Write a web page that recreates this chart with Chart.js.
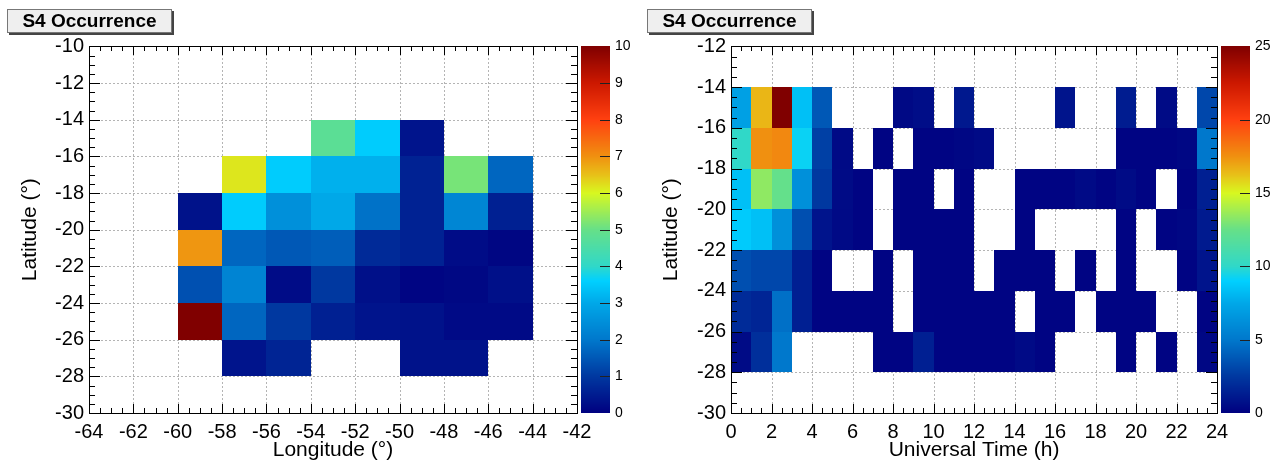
<!DOCTYPE html>
<html><head><meta charset="utf-8">
<script src="https://cdn.jsdelivr.net/npm/chart.js@4.4.1/dist/chart.umd.min.js"></script>
<style>
html,body{margin:0;padding:0;background:#fff;}
body{width:1271px;height:463px;position:relative;overflow:hidden;}
canvas{position:absolute;top:0;}
.tbox{position:absolute;top:9px;width:163px;height:22px;background:#efefef;border:1px solid #777;box-shadow:2px 2px 0 #444;font:bold 19px 'Liberation Sans',Arial,sans-serif;line-height:22px;text-align:center;color:#000;}
</style></head><body>
<canvas id="geo" width="640" height="463" style="left:0"></canvas>
<canvas id="ut" width="631" height="463" style="left:640px"></canvas>
<div class="tbox" style="left:7px">S4 Occurrence</div>
<div class="tbox" style="left:647px">S4 Occurrence</div>
<script>
// ---------- Left panel: longitude x latitude ----------
const lonBinLow = [-60, -58, -56, -54, -52, -50, -48, -46];   // bin width 2
const geoLatBinLow = [-16, -18, -20, -22, -24, -26, -28];     // bin height 2
const geoLat14to16 = [null, null, null, 4.8, 3.54, 0.36, null, null];
const geoLat16to18 = [null, 6.16, 3.54, 3.12, 3.12, 0.6, 5.15, 1.72];
const geoLat18to20 = [0.32, 3.54, 2.5, 3.0, 1.9, 0.6, 2.3, 0.57];
const geoLat20to22 = [6.94, 1.72, 1.5, 1.6, 0.75, 0.6, 0.21, 0.1];
const geoLat22to24 = [1.38, 2.25, 0.21, 1.0, 0.29, 0.09, 0.14, 0.29];
const geoLat24to26 = [10, 1.72, 1.0, 0.57, 0.36, 0.32, 0.18, 0.18];
const geoLat26to28 = [null, 0.36, 0.64, null, null, 0.32, 0.32, null];
const lonTicks = [-64, -62, -60, -58, -56, -54, -52, -50, -48, -46, -44, -42];
const geoLatTicks = [-30, -28, -26, -24, -22, -20, -18, -16, -14, -12, -10];
const geoZTicks = [0, 1, 2, 3, 4, 5, 6, 7, 8, 9, 10];

// ---------- Right panel: universal time x latitude ----------
const hourBinLow = [0,1,2,3,4,5,6,7,8,9,10,11,12,13,14,15,16,17,18,19,20,21,22,23]; // bin width 1
const utLatBinLow = [-16, -18, -20, -22, -24, -26, -28];
const utLat14to16 = [7.1, 16.5, 25, 8.4, 3.75, null, null, null, 0.4, 0.6, null, 1.07, null, null, null, null, 0.9, null, null, 1.25, null, 0.5, null, 3.1];
const utLat16to18 = [10, 17.5, 17.75, 9.2, 2.8, 0.45, null, 0.2, null, 0.2, 0.2, 0.3, 0.45, null, null, null, null, null, null, 0.2, 0.2, 0.2, 0.3, 5];
const utLat18to20 = [8.4, 13.4, 12.4, 6.25, 2.5, 0.5, 0.2, null, 0.2, 0.2, null, 0.2, null, null, 0.2, 0.2, 0.2, 0.45, 0.2, 0.5, 0.2, null, 0.2, 1.4];
const utLat20to22 = [8.8, 8.4, 6.25, 3.4, 0.9, 0.45, 0.2, null, 0.2, 0.2, 0.2, 0.2, null, null, 0.2, null, null, null, null, 0.2, null, 0.2, 0.3, 1.15];
const utLat22to24 = [3.4, 3.1, 3.1, 1.4, 0.2, null, null, 0.2, null, 0.2, 0.2, 0.2, null, 0.2, 0.2, 0.2, null, 0.2, null, 0.2, null, null, 0.2, 0.9];
const utLat24to26 = [1.9, 1.65, 4.7, 1.4, 0.2, 0.2, 0.2, 0.2, null, 0.2, 0.2, 0.2, 0.2, 0.2, null, 0.2, 0.2, null, 0.2, 0.2, 0.2, null, null, 0.2];
const utLat26to28 = [0.5, 2.1, 5, null, null, null, null, 0.2, 0.2, 1.4, 0.2, 0.2, 0.2, 0.2, 0.45, 0.2, null, null, null, 0.2, null, 0.2, null, 0.3];
const hourTicks = [0, 2, 4, 6, 8, 10, 12, 14, 16, 18, 20, 22, 24];
const utLatTicks = [-30, -28, -26, -24, -22, -20, -18, -16, -14, -12];
const utZTicks = [0, 5, 10, 15, 20, 25];

// ---------- palette (ROOT-like rainbow) ----------
const palStops = [[0,0,0,128],[0.1,0,56,160],[0.2,0,120,204],[0.3,0,168,232],[0.36,0,208,255],[0.4,48,216,200],[0.5,102,224,136],[0.6,216,248,32],[0.65,232,192,24],[0.7,240,144,16],[0.8,255,64,16],[0.9,204,24,0],[1,128,0,0]];
function palette(f) {
  f = Math.max(0, Math.min(1, f));
  for (let i = 1; i < palStops.length; i++) {
    const a = palStops[i-1], b = palStops[i];
    if (f <= b[0]) {
      const t = (f - a[0]) / (b[0] - a[0]);
      return 'rgb(' + [1,2,3].map(k => Math.round(a[k] + (b[k]-a[k])*t)).join(',') + ')';
    }
  }
  return 'rgb(128,0,0)';
}

Chart.defaults.font.family = "'Liberation Sans', Arial, Helvetica, sans-serif";
Chart.defaults.color = '#000';

function minorsOf(ticks, n) {
  const out = [];
  for (let i = 1; i < ticks.length; i++) {
    const a = ticks[i-1], b = ticks[i];
    for (let k = 1; k < n; k++) out.push(a + (b - a) * k / n);
  }
  return out;
}

function makeHeat(cfg) {
  return {
    id: 'heat_' + cfg.id,
    beforeDatasetsDraw(chart) {
      const {ctx, chartArea: a} = chart;
      const xs = chart.scales.x, ys = chart.scales.y, zs = chart.scales.z;
      const L = Math.round(a.left), R = Math.round(a.right), T = Math.round(a.top), B = Math.round(a.bottom);
      ctx.save();
      // dotted grid
      ctx.strokeStyle = '#b4b4b4'; ctx.lineWidth = 1; ctx.setLineDash([2, 2]);
      ctx.beginPath();
      cfg.xTicks.forEach(v => { const p = Math.round(xs.getPixelForValue(v)) + 0.5; ctx.moveTo(p, T); ctx.lineTo(p, B); });
      cfg.yTicks.forEach(v => { const p = Math.round(ys.getPixelForValue(v)) + 0.5; ctx.moveTo(L, p); ctx.lineTo(R, p); });
      ctx.stroke(); ctx.setLineDash([]);
      // cells
      cfg.rows.forEach((row, r) => row.forEach((v, c) => {
        if (v === null) return;
        const x0 = Math.round(xs.getPixelForValue(cfg.colLow[c]));
        const x1 = Math.round(xs.getPixelForValue(cfg.colLow[c] + cfg.colW));
        const y0 = Math.round(ys.getPixelForValue(cfg.rowLow[r] + cfg.rowH));
        const y1 = Math.round(ys.getPixelForValue(cfg.rowLow[r]));
        ctx.fillStyle = palette(v / cfg.zMax);
        ctx.fillRect(x0, y0, x1 - x0, y1 - y0);
      }));
      // frame ticks (inward, all four sides)
      ctx.strokeStyle = '#000'; ctx.lineWidth = 1;
      ctx.beginPath();
      const xt = (list, len) => list.forEach(v => { const p = Math.round(xs.getPixelForValue(v)) + 0.5; ctx.moveTo(p, B); ctx.lineTo(p, B - len); ctx.moveTo(p, T); ctx.lineTo(p, T + len); });
      const yt = (list, len) => list.forEach(v => { const p = Math.round(ys.getPixelForValue(v)) + 0.5; ctx.moveTo(L, p); ctx.lineTo(L + len, p); ctx.moveTo(R, p); ctx.lineTo(R - len, p); });
      xt(cfg.xTicks, 9); xt(minorsOf(cfg.xTicks, 4), 5);
      yt(cfg.yTicks, 11); yt(minorsOf(cfg.yTicks, 4), 6);
      ctx.stroke();
      ctx.strokeRect(L + 0.5, T + 0.5, R - L, B - T);
      // colour bar
      const cx = R + 4, cw = 29;
      const zt = Math.round(zs.getPixelForValue(cfg.zMax)), zb = Math.round(zs.getPixelForValue(0));
      for (let py = zt; py < zb; py++) {
        ctx.fillStyle = palette(zs.getValueForPixel(py + 0.5) / cfg.zMax);
        ctx.fillRect(cx, py, cw, 1);
      }
      ctx.strokeStyle = '#222'; ctx.beginPath();
      cfg.zTicks.forEach(v => { if (v <= 0 || v >= cfg.zMax) return; const p = Math.round(zs.getPixelForValue(v)) + 0.5; ctx.moveTo(cx + cw, p); ctx.lineTo(cx + cw - 10, p); });
      ctx.stroke();
      ctx.restore();
    }
  };
}

function build(canvasId, cfg) {
  const tickFont = {size: 20};
  new Chart(document.getElementById(canvasId), {
    type: 'scatter',
    data: {datasets: [{data: [], pointRadius: 0}]},
    plugins: [makeHeat(cfg)],
    options: {
      responsive: false, animation: false, devicePixelRatio: 1,
      layout: {padding: {top: 43, left: 0, right: 0, bottom: 0}},
      plugins: {legend: {display: false}, tooltip: {enabled: false}},
      scales: {
        x: {
          type: 'linear', position: 'bottom', min: cfg.xTicks[0], max: cfg.xTicks[cfg.xTicks.length - 1],
          afterBuildTicks: s => { s.ticks = cfg.xTicks.map(v => ({value: v})); },
          afterFit: s => { s.height = 50; },
          grid: {display: false, drawTicks: false}, border: {display: false},
          ticks: {font: tickFont, padding: 7, autoSkip: false, maxRotation: 0, color: '#000'},
          title: {display: true, text: cfg.xTitle, font: {size: 21}, padding: {top: 0, bottom: 0}, color: '#000'}
        },
        y: {
          type: 'linear', position: 'left', min: cfg.yTicks[0], max: cfg.yTicks[cfg.yTicks.length - 1],
          afterBuildTicks: s => { s.ticks = cfg.yTicks.map(v => ({value: v})); },
          afterFit: s => { s.width = cfg.yWidth; },
          grid: {display: false, drawTicks: false}, border: {display: false},
          ticks: {font: tickFont, padding: 5, autoSkip: false, color: '#000'},
          title: {display: true, text: 'Latitude (°)', font: {size: 21}, padding: {top: cfg.yTitlePad, bottom: 0}, color: '#000'}
        },
        z: {
          type: 'linear', position: 'right', axis: 'y', min: 0, max: cfg.zMax,
          afterBuildTicks: s => { s.ticks = cfg.zTicks.map(v => ({value: v})); },
          afterFit: s => { s.width = cfg.zWidth; },
          grid: {display: false, drawTicks: false}, border: {display: false},
          ticks: {font: {size: 14}, padding: 38, autoSkip: false, color: '#000'}
        }
      }
    }
  });
}

build('geo', {
  id: 'geo', xTicks: lonTicks, yTicks: geoLatTicks, zTicks: geoZTicks, zMax: 10,
  colLow: lonBinLow, colW: 2, rowLow: geoLatBinLow, rowH: 2,
  rows: [geoLat14to16, geoLat16to18, geoLat18to20, geoLat20to22, geoLat22to24, geoLat24to26, geoLat26to28],
  xTitle: 'Longitude (°)', yWidth: 89, yTitlePad: 18, zWidth: 63
});
build('ut', {
  id: 'ut', xTicks: hourTicks, yTicks: utLatTicks, zTicks: utZTicks, zMax: 25,
  colLow: hourBinLow, colW: 1, rowLow: utLatBinLow, rowH: 2,
  rows: [utLat14to16, utLat16to18, utLat18to20, utLat20to22, utLat22to24, utLat24to26, utLat26to28],
  xTitle: 'Universal Time (h)', yWidth: 91, yTitlePad: 19, zWidth: 54
});
</script>
</body></html>
